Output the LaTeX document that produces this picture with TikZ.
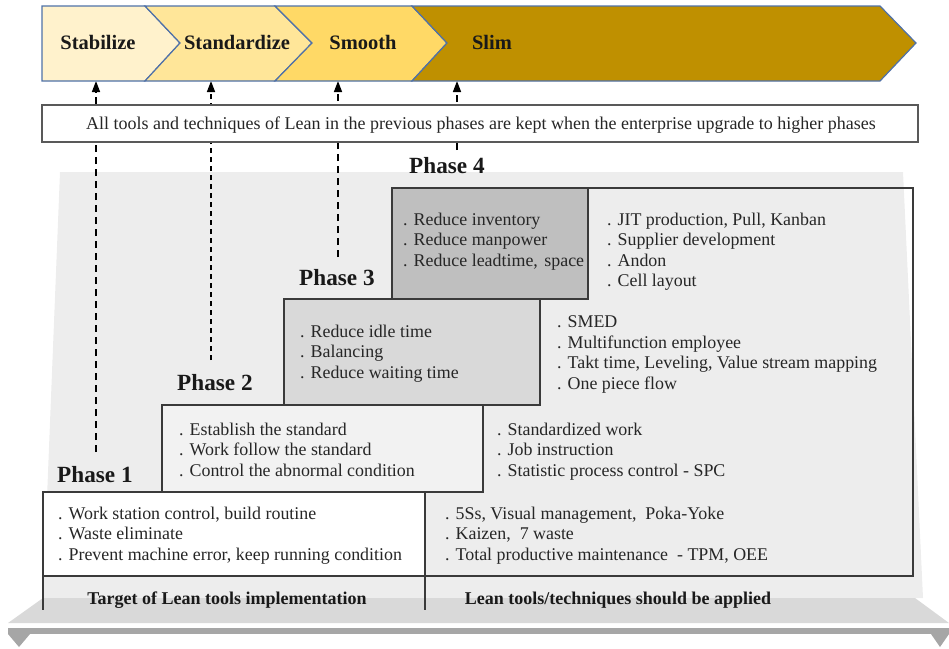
\documentclass[tikz,border=0pt]{standalone}
\usepackage{fontspec}
\setmainfont{Liberation Serif}
\usetikzlibrary{arrows.meta}
\definecolor{cA}{HTML}{FFF2CC}
\definecolor{cB}{HTML}{FFE699}
\definecolor{cC}{HTML}{FFD966}
\definecolor{cD}{HTML}{BF9000}
\definecolor{chevb}{HTML}{4F71A8}
\definecolor{panel}{HTML}{EDEDED}
\definecolor{slab}{HTML}{D9D9D9}
\definecolor{barc}{HTML}{A6A6A6}
\definecolor{linec}{HTML}{3A3A3A}
\definecolor{txt}{HTML}{262626}
\definecolor{pfour}{HTML}{BFBFBF}
\definecolor{pthree}{HTML}{D9D9D9}
\definecolor{ptwo}{HTML}{F2F2F2}
\newcommand\bodyfs{\fontsize{17.9}{20.6}\selectfont}
\tikzset{
  chev/.style={draw=chevb, line width=1.2pt, line join=miter},
  chevlbl/.style={font=\fontsize{20.5}{23}\selectfont\bfseries, text=black!90, inner sep=0pt},
  phbox/.style={draw=linec, line width=1.6pt},
  blk/.style={font=\bodyfs, text=txt, align=left, anchor=north west, inner sep=0pt},
  phlbl/.style={font=\fontsize{23.2}{26}\selectfont\bfseries, text=black!90, anchor=west, inner sep=0pt},
  botlbl/.style={font=\fontsize{18}{20}\selectfont\bfseries, text=black!90, inner sep=0pt},
  uparrow/.style={line width=1.5pt, -{Triangle[length=11pt,width=8pt]}},
}
\begin{document}
\begin{tikzpicture}[x=1pt,y=-1pt]
\useasboundingbox (0,0) rectangle (949,648);
% background panel and base
\fill[panel] (60,172) -- (903,172) -- (923,598) -- (43,598) -- cycle;
\fill[slab] (43,598) -- (915,598) -- (949,623) -- (8,623) -- cycle;
\fill[barc] (8,628) rectangle (949,634);
\fill[barc] (8,634) -- (30,634) -- (19,647) -- cycle;
\fill[barc] (931,634) -- (949,634) -- (940,647) -- cycle;
% big outline
\draw[phbox] (392,188) -- (913,188) -- (913,576) -- (43,576);
\draw[phbox] (43,576) -- (43,610);
\draw[phbox] (425,576) -- (425,610);
% phase boxes
\draw[phbox, fill=white] (43,492) rectangle (425,576);
\draw[phbox, fill=ptwo] (162,405) rectangle (483,492);
\draw[phbox, fill=pthree] (284,299) rectangle (540,405);
\draw[phbox, fill=pfour] (392,188) rectangle (588,299);
% phase labels
\node[phlbl] (ph1) at (57,475) {Phase 1};
\node[phlbl] (ph2) at (177,383) {Phase 2};
\node[phlbl] (ph3) at (299,278) {Phase 3};
\node[phlbl] (ph4) at (409,166) {Phase 4};
% text blocks
\node[blk] (t4) at (403,212.5) {. Reduce inventory\\. Reduce manpower\\. Reduce leadtime,\hspace{2pt} space};
\node[blk] (l4) at (607,212.5) {. JIT production, Pull, Kanban\\. Supplier development\\. Andon\\. Cell layout};
\node[blk] (t3) at (300,324.5) {. Reduce idle time\\. Balancing\\. Reduce waiting time};
\node[blk] (l3) at (557,315.5) {. SMED\\. Multifunction employee\\. Takt time, Leveling, Value stream mapping\\. One piece flow};
\node[blk] (t2) at (179,422.5) {. Establish the standard\\. Work follow the standard\\. Control the abnormal condition};
\node[blk] (l2) at (497,422.5) {. Standardized work\\. Job instruction\\. Statistic process control - SPC};
\node[blk] (t1) at (58,506.5) {. Work station control, build routine\\. Waste eliminate\\. Prevent machine error, keep running condition};
\node[blk] (l1) at (445,506.5) {. 5Ss, Visual management,\ \ Poka-Yoke\\. Kaizen,\ \ 7 waste\\. Total productive maintenance\ \ - TPM, OEE};
% bottom labels
\node[botlbl] (b1) at (227,600) {Target of Lean tools implementation};
\node[botlbl] (b2) at (618,600) {Lean tools/techniques should be applied};
% dashed arrows
\coordinate (s1) at (96,452); \coordinate (e1) at (96,81);
\coordinate (s2) at (211,360); \coordinate (e2) at (211,81);
\coordinate (s3) at (338,257); \coordinate (e3) at (338,81);
\coordinate (s4) at (457,150); \coordinate (e4) at (457,81);
\draw[uparrow, dash pattern=on 7pt off 5pt] (s1) -- (e1);
\draw[uparrow, dash pattern=on 5pt off 4pt] (s2) -- (e2);
\draw[uparrow, dash pattern=on 7pt off 5pt] (s3) -- (e3);
\draw[uparrow, dash pattern=on 7pt off 5pt] (s4) -- (e4);
% white box
\draw[draw=black!65, line width=1.8pt, fill=white] (42,105) rectangle (918,142);
\node[font=\fontsize{18}{20}\selectfont, text=txt, inner sep=0pt] (keep) at (481,125) {All tools and techniques of Lean in the previous phases are kept when the enterprise upgrade to higher phases};
% chevrons
\draw[chev, fill=cA] (42,6) -- (145,6) -- (180,43) -- (145,81) -- (42,81) -- cycle;
\draw[chev, fill=cB] (145,6) -- (275,6) -- (312,43) -- (275,81) -- (145,81) -- (180,43) -- cycle;
\draw[chev, fill=cC] (275,6) -- (412,6) -- (447,43) -- (412,81) -- (275,81) -- (312,43) -- cycle;
\draw[chev, fill=cD] (412,6) -- (880,6) -- (916,43) -- (880,81) -- (412,81) -- (447,43) -- cycle;
\node[chevlbl] (c1) at (98,42) {Stabilize};
\node[chevlbl] (c2) at (237,42) {Standardize};
\node[chevlbl] (c3) at (363,42) {Smooth};
\node[chevlbl] (c4) at (492,42) {Slim};
\end{tikzpicture}
\end{document}
